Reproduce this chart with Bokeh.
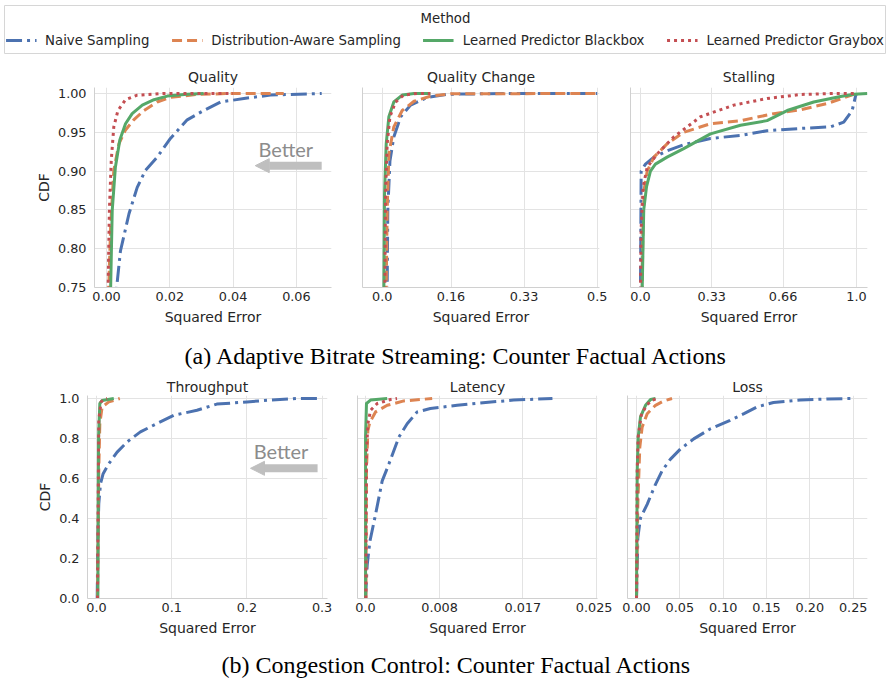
import numpy as np
from bokeh.plotting import figure
from bokeh.layouts import column, row
from bokeh.models import (Legend, LegendItem, Label, Arrow, NormalHead,
                          FixedTicker, Range1d)
from bokeh.embed import file_html
from bokeh.resources import INLINE

# ---------------- data ----------------
methods = ["Naive Sampling", "Distribution-Aware Sampling",
           "Learned Predictor Blackbox", "Learned Predictor Graybox"]
colors = ["#4c72b0", "#dd8452", "#55a868", "#c44e52"]
dashes = ["16 5 3 5", "10 5", "solid", "3 4"]

# (a) Adaptive Bitrate Streaming
q_naive_x = [0.0028, 0.0032, 0.0044, 0.0071, 0.0097, 0.0123, 0.016, 0.0202, 0.0255, 0.0307, 0.036, 0.0434, 0.0518, 0.068]
q_naive_y = [0.72, 0.75, 0.797, 0.845, 0.879, 0.901, 0.918, 0.942, 0.966, 0.978, 0.989, 0.9935, 0.998, 1.0]
q_dist_x = [0.0006, 0.0007, 0.0013, 0.0023, 0.0039, 0.006, 0.0086, 0.0118, 0.016, 0.0202, 0.0286, 0.039, 0.056]
q_dist_y = [0.72, 0.75, 0.828, 0.901, 0.935, 0.953, 0.966, 0.978, 0.989, 0.995, 0.9987, 1.0, 1.0]
q_black_x = [0.0012, 0.0013, 0.0018, 0.0028, 0.0042, 0.006, 0.0081, 0.0113, 0.015, 0.0192, 0.0255, 0.0307]
q_black_y = [0.72, 0.75, 0.849, 0.905, 0.940, 0.961, 0.974, 0.985, 0.992, 0.9966, 0.999, 1.0]
q_gray_x = [0.0004, 0.0005, 0.0009, 0.0015, 0.0023, 0.0036, 0.006, 0.0097, 0.018, 0.040]
q_gray_y = [0.72, 0.75, 0.849, 0.914, 0.957, 0.978, 0.992, 0.9978, 1.0, 1.0]

qc_naive_x = [0.0110, 0.0116, 0.013, 0.018, 0.027, 0.043, 0.066, 0.105, 0.151, 0.30, 0.5]
qc_naive_y = [0.72, 0.75, 0.849, 0.913, 0.944, 0.970, 0.985, 0.995, 0.999, 1.0, 1.0]
qc_dist_x = [0.009, 0.0093, 0.0116, 0.0155, 0.027, 0.0465, 0.074, 0.112, 0.159, 0.5]
qc_dist_y = [0.72, 0.75, 0.849, 0.922, 0.957, 0.978, 0.99, 0.9965, 0.9996, 1.0]
qc_black_x = [0.0037, 0.0039, 0.0054, 0.0093, 0.0155, 0.027, 0.0465, 0.074, 0.112]
qc_black_y = [0.72, 0.75, 0.87, 0.935, 0.97, 0.989, 0.998, 1.0, 1.0]
qc_gray_x = [0.006, 0.0062, 0.0078, 0.0116, 0.018, 0.031, 0.05, 0.081, 0.112]
qc_gray_y = [0.72, 0.75, 0.87, 0.935, 0.97, 0.989, 0.998, 1.0, 1.0]

st_naive_x = [0.0, 0.0, 0.003, 0.023, 0.062, 0.123, 0.2, 0.324, 0.463, 0.586, 0.741, 0.88, 0.941, 0.98, 0.995, 1.0]
st_naive_y = [0.72, 0.75, 0.90, 0.909, 0.918, 0.926, 0.934, 0.942, 0.946, 0.952, 0.955, 0.957, 0.963, 0.978, 0.996, 1.0]
st_dist_x = [0.007, 0.008, 0.011, 0.0185, 0.031, 0.062, 0.123, 0.2, 0.324, 0.463, 0.617, 0.741, 0.864, 0.957, 1.0]
st_dist_y = [0.72, 0.75, 0.826, 0.879, 0.90, 0.918, 0.935, 0.950, 0.961, 0.965, 0.974, 0.979, 0.987, 0.996, 1.0]
st_black_x = [0.007, 0.008, 0.015, 0.028, 0.046, 0.069, 0.123, 0.2, 0.324, 0.463, 0.586, 0.679, 0.802, 0.926, 0.988, 1.05]
st_black_y = [0.72, 0.75, 0.85, 0.88, 0.90, 0.909, 0.918, 0.929, 0.948, 0.959, 0.965, 0.978, 0.989, 0.996, 0.999, 1.0]
st_gray_x = [0.0, 0.0, 0.003, 0.012, 0.031, 0.077, 0.154, 0.278, 0.432, 0.586, 0.741, 0.895, 0.99]
st_gray_y = [0.72, 0.75, 0.826, 0.879, 0.905, 0.922, 0.944, 0.97, 0.985, 0.9935, 0.9987, 1.0, 1.0]

# (b) Congestion Control
tp_naive_x = [0.0009, 0.0018, 0.003, 0.0053, 0.0088, 0.0164, 0.0274, 0.0407, 0.0584, 0.0805, 0.1027, 0.1336, 0.16, 0.2, 0.231, 0.266, 0.294]
tp_naive_y = [0.0, 0.306, 0.473, 0.574, 0.624, 0.674, 0.732, 0.783, 0.833, 0.875, 0.916, 0.941, 0.972, 0.983, 0.992, 1.0, 1.0]
tp_dist_x = [0.0013, 0.003, 0.0044, 0.0075, 0.0164, 0.031]
tp_dist_y = [0.0, 0.64, 0.875, 0.958, 0.983, 1.0]
tp_black_x = [0.0018, 0.0027, 0.0044, 0.0075, 0.023]
tp_black_y = [0.0, 0.808, 0.975, 0.99, 1.0]
tp_gray_x = [0.0013, 0.003, 0.006, 0.0106, 0.014]
tp_gray_y = [0.0, 0.891, 0.983, 0.996, 1.0]

lat_naive_x = [0.0, 0.00018, 0.00047, 0.00108, 0.0018, 0.00252, 0.0036, 0.0045, 0.00558, 0.007, 0.0099, 0.0124, 0.016, 0.0202]
lat_naive_y = [0.0, 0.168, 0.286, 0.42, 0.588, 0.672, 0.807, 0.874, 0.933, 0.95, 0.966, 0.978, 0.992, 1.0]
lat_dist_x = [0.00004, 0.0001, 0.00025, 0.00047, 0.00108, 0.00234, 0.00414, 0.0072]
lat_dist_y = [0.0, 0.639, 0.84, 0.882, 0.933, 0.966, 0.988, 1.0]
lat_black_x = [0.0, 0.0, 0.0001, 0.00054, 0.00234]
lat_black_y = [0.0, 0.807, 0.975, 0.992, 1.0]
lat_gray_x = [0.00003, 0.0001, 0.00025, 0.00054, 0.00126, 0.0027, 0.0034]
lat_gray_y = [0.0, 0.72, 0.874, 0.941, 0.975, 0.995, 1.0]

loss_naive_x = [0.0, 0.0015, 0.0046, 0.0123, 0.0219, 0.0296, 0.0392, 0.0508, 0.066, 0.0854, 0.108, 0.124, 0.139, 0.158, 0.189, 0.22, 0.249]
loss_naive_y = [0.0, 0.303, 0.403, 0.471, 0.571, 0.639, 0.697, 0.748, 0.798, 0.849, 0.891, 0.924, 0.958, 0.98, 0.992, 0.998, 1.0]
loss_dist_x = [0.0, 0.0015, 0.0038, 0.0065, 0.0123, 0.0219, 0.0315, 0.041]
loss_dist_y = [0.0, 0.471, 0.756, 0.857, 0.924, 0.966, 0.988, 1.0]
loss_black_x = [0.0, 0.0008, 0.0019, 0.0046, 0.0104, 0.0162, 0.0219]
loss_black_y = [0.0, 0.639, 0.807, 0.908, 0.966, 0.995, 1.0]
loss_gray_x = [0.0, 0.0008, 0.0019, 0.0054, 0.0115, 0.018, 0.0246]
loss_gray_y = [0.0, 0.639, 0.807, 0.916, 0.966, 0.992, 1.0]

# ticks
top_y_ticks = [0.75, 0.80, 0.85, 0.90, 0.95, 1.00]
top_y_labels = ["0.75", "0.80", "0.85", "0.90", "0.95", "1.00"]
bot_y_ticks = [0.0, 0.2, 0.4, 0.6, 0.8, 1.0]
bot_y_labels = ["0.0", "0.2", "0.4", "0.6", "0.8", "1.0"]

q_ticks = [0.0, 0.02, 0.04, 0.06]
q_labels = ["0.00", "0.02", "0.04", "0.06"]
qc_ticks = [0.0, 0.16, 0.33, 0.5]
qc_labels = ["0.0", "0.16", "0.33", "0.5"]
st_ticks = [0.0, 0.33, 0.66, 1.0]
st_labels = ["0.0", "0.33", "0.66", "1.0"]
tp_ticks = [0.0, 0.1, 0.2, 0.3]
tp_labels = ["0.0", "0.1", "0.2", "0.3"]
lat_ticks = [0.0, 0.008, 0.017, 0.025]
lat_labels = ["0.0", "0.008", "0.017", "0.025"]
loss_ticks = [0.0, 0.05, 0.10, 0.15, 0.20, 0.25]
loss_labels = ["0.00", "0.05", "0.10", "0.15", "0.20", "0.25"]

FONT = "DejaVu Sans"
TXT = "#262626"
GRID = "#e3e3e3"
SPINE = "#d0d0d0"


def panel(title, series, xr, yr, xt, xl, yt, yl, first, width, height,
          bl, br, bt, bb, title_standoff, ylab_standoff):
    p = figure(width=width, height=height, toolbar_location=None,
               output_backend="svg", x_range=Range1d(*xr), y_range=Range1d(*yr),
               min_border_left=bl, min_border_right=br,
               min_border_top=bt, min_border_bottom=bb)
    p.outline_line_color = None
    p.background_fill_color = "white"
    p.border_fill_color = "white"
    p.title.text = title
    p.title.align = "center"
    p.title.text_font = FONT
    p.title.text_font_size = "14px"
    p.title.text_font_style = "normal"
    p.title.text_color = TXT
    p.title.standoff = title_standoff
    for (xs, ys), c, d in zip(series, colors, dashes):
        p.line(xs, ys, line_color=c, line_dash=d, line_width=3,
               line_join="round")
    # axes
    p.xaxis.ticker = FixedTicker(ticks=xt)
    p.xaxis.major_label_overrides = dict(zip(xt, xl))
    p.yaxis.ticker = FixedTicker(ticks=yt)
    p.yaxis.major_label_overrides = dict(zip(yt, yl))
    for ax in (p.xaxis[0], p.yaxis[0]):
        ax.axis_line_color = SPINE
        ax.axis_line_width = 1
        ax.major_tick_line_color = None
        ax.major_tick_out = 0
        ax.major_tick_in = 0
        ax.minor_tick_line_color = None
        ax.minor_tick_out = 0
        ax.major_label_text_font = FONT
        ax.major_label_text_font_size = "12.8px"
        ax.major_label_text_color = TXT
        ax.axis_label_text_font = FONT
        ax.axis_label_text_font_size = "14px"
        ax.axis_label_text_font_style = "normal"
        ax.axis_label_text_color = TXT
    p.xaxis.axis_label = "Squared Error"
    p.xaxis.major_label_standoff = 4
    p.xaxis.axis_label_standoff = 5
    if first:
        p.yaxis.axis_label = "CDF"
        p.yaxis.major_label_standoff = 8
        p.yaxis.axis_label_standoff = ylab_standoff
    else:
        p.yaxis.major_label_text_font_size = "0px"
        p.yaxis.major_label_text_alpha = 0
        p.yaxis.major_label_standoff = 0
    p.xgrid.ticker = FixedTicker(ticks=xt)
    p.ygrid.ticker = FixedTicker(ticks=yt)
    p.grid.grid_line_color = GRID
    p.grid.grid_line_width = 1
    return p


def better(p, tx, ty, ax0, ax1, ay):
    p.add_layout(Arrow(x_start=ax0, y_start=ay, x_end=ax1, y_end=ay,
                       line_color="#bfbfbf", line_width=8,
                       end=NormalHead(size=14, fill_color="#bfbfbf",
                                      line_color="#bfbfbf")))
    p.add_layout(Label(x=tx, y=ty, text="Better", text_font="Lato",
                       text_font_size="20px", text_color="#8c8c8c",
                       text_baseline="middle", text_align="left"))


W = 886
# ---------------- legend ----------------
lf = figure(width=W, height=56, toolbar_location=None, output_backend="svg",
            min_border_left=4, min_border_right=1, min_border_top=5,
            min_border_bottom=3, x_axis_type=None, y_axis_type=None,
            x_range=Range1d(0, 1), y_range=Range1d(0, 1))
lf.outline_line_color = "#d6d6d6"
lf.xgrid.visible = False
lf.ygrid.visible = False
items = []
nan = np.array([np.nan])
for m, c, d in zip(methods, colors, dashes):
    r = lf.line(x=nan, y=nan, line_color=c, line_dash=d, line_width=3)
    items.append(LegendItem(label=m, renderers=[r]))
leg = Legend(items=items, orientation="horizontal", location="bottom_center",
             glyph_width=31, glyph_height=16, label_standoff=9, spacing=22,
             padding=0, margin=5, border_line_color=None,
             background_fill_alpha=0, label_text_font=FONT,
             label_text_font_size="13.3px", label_text_color=TXT)
lf.add_layout(leg, "center")
lf.add_layout(Label(x=441, y=35, x_units="screen", y_units="screen",
                    text="Method", text_font=FONT, text_font_size="13.3px",
                    text_color=TXT, text_align="center",
                    text_baseline="middle"))

# ---------------- top row ----------------
TH = 281
p1 = panel("Quality",
           [(q_naive_x, q_naive_y), (q_dist_x, q_dist_y),
            (q_black_x, q_black_y), (q_gray_x, q_gray_y)],
           (-0.0038, 0.0711), (0.75, 1.0077), q_ticks, q_labels,
           top_y_ticks, top_y_labels, True, 346, TH, 94, 15, 31, 50, 6, 3)
better(p1, 0.048, 0.929, 0.068, 0.047, 0.907)
p2 = panel("Quality Change",
           [(qc_naive_x, qc_naive_y), (qc_dist_x, qc_dist_y),
            (qc_black_x, qc_black_y), (qc_gray_x, qc_gray_y)],
           (-0.0458, 0.5053), (0.75, 1.0077), qc_ticks, qc_labels,
           top_y_ticks, top_y_labels, False, 268, TH, 16, 15, 31, 50, 6, 3)
p3 = panel("Stalling",
           [(st_naive_x, st_naive_y), (st_dist_x, st_dist_y),
            (st_black_x, st_black_y), (st_gray_x, st_gray_y)],
           (-0.0463, 1.051), (0.75, 1.0077), st_ticks, st_labels,
           top_y_ticks, top_y_labels, False, 272, TH, 16, 19, 31, 50, 6, 3)


# ---------------- captions ----------------
def caption(text, h, y):
    c = figure(width=W, height=h, toolbar_location=None, output_backend="svg",
               min_border=0, x_axis_type=None, y_axis_type=None,
               x_range=Range1d(0, 1), y_range=Range1d(0, 1))
    c.outline_line_color = None
    c.xgrid.visible = False
    c.ygrid.visible = False
    c.add_layout(Label(x=452, y=y, x_units="screen", y_units="screen",
                       text=text, text_font="Liberation Serif",
                       text_font_size="24px", text_color="black",
                       text_align="center", text_baseline="middle"))
    return c


cap_a = caption("(a) Adaptive Bitrate Streaming: Counter Factual Actions", 38, 20)

# ---------------- bottom row ----------------
BH = 266
p4 = panel("Throughput",
           [(tp_naive_x, tp_naive_y), (tp_dist_x, tp_dist_y),
            (tp_black_x, tp_black_y), (tp_gray_x, tp_gray_y)],
           (-0.0120, 0.3072), (0.0, 1.015), tp_ticks, tp_labels,
           bot_y_ticks, bot_y_labels, True, 342, BH, 87, 15, 20, 43, 1, 3)
better(p4, 0.209, 0.739, 0.294, 0.2048, 0.651)
p5 = panel("Latency",
           [(lat_naive_x, lat_naive_y), (lat_dist_x, lat_dist_y),
            (lat_black_x, lat_black_y), (lat_gray_x, lat_gray_y)],
           (-0.00087, 0.02507), (0.0, 1.015), lat_ticks, lat_labels,
           bot_y_ticks, bot_y_labels, False, 270, BH, 15, 15, 20, 43, 1, 3)
p6 = panel("Loss",
           [(loss_naive_x, loss_naive_y), (loss_dist_x, loss_dist_y),
            (loss_black_x, loss_black_y), (loss_gray_x, loss_gray_y)],
           (-0.0104, 0.2665), (0.0, 1.015), loss_ticks, loss_labels,
           bot_y_ticks, bot_y_labels, False, 274, BH, 15, 19, 20, 43, 1, 3)

cap_b = caption("(b) Congestion Control: Counter Factual Actions", 37, 14)

layout = column(lf, row(p1, p2, p3), cap_a, row(p4, p5, p6), cap_b)

open("out.html", "w").write(file_html(layout, INLINE))
